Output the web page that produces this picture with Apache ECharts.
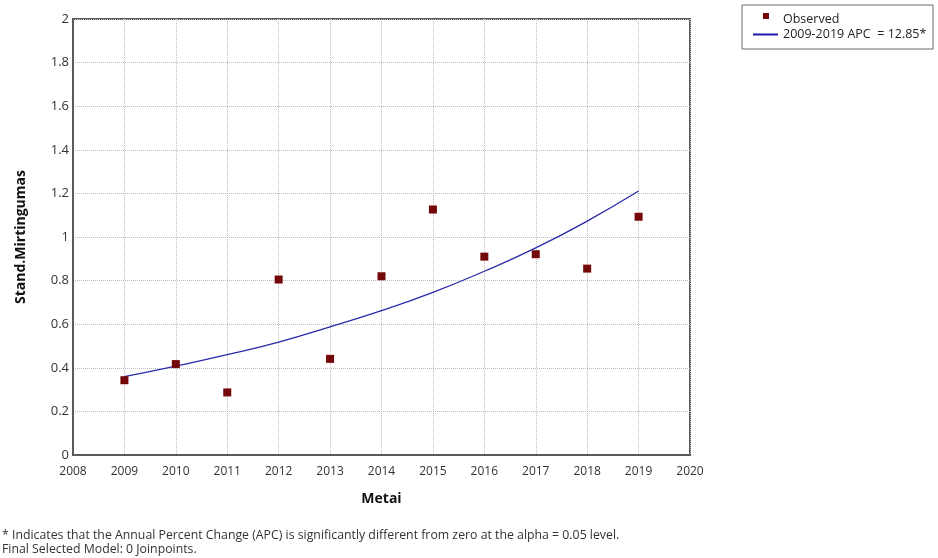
<!DOCTYPE html>
<html>
<head>
<meta charset="utf-8">
<script src="https://cdn.jsdelivr.net/npm/echarts@6/dist/echarts.min.js"></script>
<style>html,body{margin:0;padding:0;background:#fff;}#c{width:938px;height:558px;}</style>
</head>
<body>
<div id="c"></div>
<script>
const years = [2009, 2010, 2011, 2012, 2013, 2014, 2015, 2016, 2017, 2018, 2019];
const observed = [0.343, 0.417, 0.287, 0.805, 0.441, 0.820, 1.126, 0.910, 0.921, 0.855, 1.093];
const fitted = [0.360, 0.408, 0.460, 0.518, 0.588, 0.662, 0.746, 0.843, 0.950, 1.073, 1.211];
const xTicks = [2008, 2020, 1];
const yTicks = [0, 2, 0.2];
const legendLabels = ['Observed', '2009-2019 APC  = 12.85*'];
const footnotes = [
  '* Indicates that the Annual Percent Change (APC) is significantly different from zero at the alpha = 0.05 level.',
  'Final Selected Model: 0 Joinpoints.'
];

const FONT = '"Open Sans", "Noto Sans", sans-serif';
const chart = echarts.init(document.getElementById('c'), null, {renderer: 'canvas'});
chart.setOption({
  backgroundColor: '#ffffff',
  animation: false,
  grid: {left: 73, top: 19, width: 617, height: 436, show: true, borderColor: '#5a5a5a', borderWidth: 2, backgroundColor: 'transparent'},
  xAxis: {
    type: 'value', min: xTicks[0], max: xTicks[1], interval: xTicks[2],
    name: 'Metai', nameLocation: 'middle', nameGap: 37,
    nameTextStyle: {fontFamily: FONT, fontWeight: 'bold', fontSize: 14, color: '#111'},
    axisLine: {show: true, lineStyle: {color: '#5a5a5a', width: 2}},
    axisTick: {show: false},
    axisLabel: {formatter: v => String(v), fontFamily: FONT, fontSize: 12, color: '#333', margin: 11},
    splitLine: {show: true, lineStyle: {color: '#bdbdbd', type: [1, 1], width: 1}}
  },
  yAxis: {
    type: 'value', min: yTicks[0], max: yTicks[1], interval: yTicks[2],
    name: 'Stand.Mirtingumas', nameLocation: 'middle', nameGap: 45, nameRotate: 90,
    nameTextStyle: {fontFamily: FONT, fontWeight: 'bold', fontSize: 14, color: '#111'},
    axisLine: {show: true, lineStyle: {color: '#5a5a5a', width: 2}},
    axisTick: {show: false},
    axisLabel: {fontFamily: FONT, fontSize: 13, color: '#333', margin: 4},
    splitLine: {show: true, lineStyle: {color: '#bdbdbd', type: [1, 1], width: 1}}
  },
  series: [
    {
      name: legendLabels[1], type: 'line', smooth: true, showSymbol: false,
      data: years.map((y, i) => [y, fitted[i]]),
      lineStyle: {color: '#2a2aa8', width: 1.3}, z: 2
    },
    {
      name: legendLabels[0], type: 'scatter', symbol: 'rect', symbolSize: 8,
      data: years.map((y, i) => [y, observed[i]]),
      itemStyle: {color: '#740707', opacity: 1}, z: 3
    }
  ],
  graphic: [
    {type: 'rect', shape: {x: 742, y: 5, width: 191, height: 44}, style: {fill: '#fff', stroke: '#6a6a6a', lineWidth: 1}},
    {type: 'rect', shape: {x: 763, y: 13, width: 6, height: 6}, style: {fill: '#740707'}},
    {type: 'line', shape: {x1: 753, y1: 34.5, x2: 778, y2: 34.5}, style: {stroke: '#1a1aa8', lineWidth: 2}},
    {type: 'text', x: 783, y: 19, style: {text: legendLabels[0], font: '12.5px ' + FONT, fill: '#222', textVerticalAlign: 'middle'}},
    {type: 'text', x: 783, y: 34, style: {text: legendLabels[1], font: '12.5px ' + FONT, fill: '#222', textVerticalAlign: 'middle'}},
    {type: 'text', x: 2, y: 535, style: {text: footnotes[0], font: '12.3px ' + FONT, fill: '#333', textVerticalAlign: 'middle'}},
    {type: 'text', x: 2, y: 549, style: {text: footnotes[1], font: '12.3px ' + FONT, fill: '#333', textVerticalAlign: 'middle'}}
  ]
});
</script>
</body>
</html>
